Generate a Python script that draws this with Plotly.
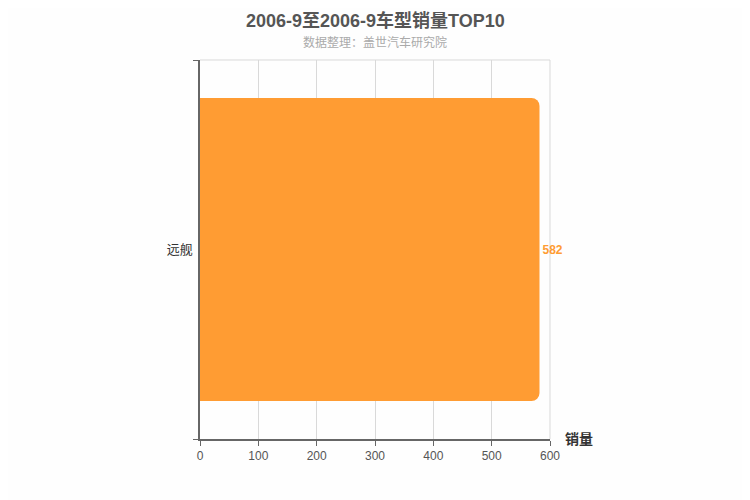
import plotly.graph_objects as go

categories = ["远舰"]
sales = [582]

FONT = "Liberation Sans, Noto Sans CJK SC, sans-serif"

fig = go.Figure()
fig.add_trace(go.Bar(
    y=categories, x=sales, orientation="h",
    marker=dict(color="#ff9c33", line=dict(width=0)),
    text=["<b>%d</b>" % v for v in sales], textposition="outside",
    textfont=dict(color="#ff9c33", size=12, family=FONT),
    cliponaxis=False, width=0.8,
))
fig.update_layout(
    width=750, height=500,
    margin=dict(l=192, r=208, t=52, b=69),
    paper_bgcolor="#fefefe", plot_bgcolor="#fefefe",
    font=dict(family=FONT, color="#333"),
    barcornerradius=8,
    showlegend=False,
    xaxis=dict(range=[0, 600], dtick=100, showgrid=True, gridcolor="#d9d9d9",
               showline=True, linecolor="#666", linewidth=1.5, ticks="outside",
               ticklen=5, tickcolor="#666", tickfont=dict(size=12, color="#555"),
               zeroline=False),
    yaxis=dict(showline=True, linecolor="#666", linewidth=1.5, ticks="outside",
               tickson="boundaries", ticklen=5, tickcolor="#666", showgrid=True,
               gridcolor="#d9d9d9", tickfont=dict(size=13, color="#333"),
               ticklabelstandoff=3),
    shapes=[
        dict(type="line", xref="paper", yref="paper", x0=0, x1=1, y0=1, y1=1,
             line=dict(color="#d9d9d9", width=1), layer="below"),
        dict(type="line", xref="paper", yref="paper", x0=1, x1=1, y0=0, y1=1,
             line=dict(color="#d9d9d9", width=1), layer="below"),
    ],
    annotations=[
        dict(text="<b>2006-9至2006-9车型销量TOP10</b>", xref="paper", yref="paper",
             x=0.5, y=1.0, yshift=51, xanchor="center", yanchor="top",
             showarrow=False, borderpad=0, font=dict(size=18, color="#555")),
        dict(text="数据整理：盖世汽车研究院", xref="paper", yref="paper", x=0.5, y=1.0,
             yshift=8, xanchor="center", yanchor="bottom", showarrow=False,
             font=dict(size=12, color="#aaa")),
        dict(text="<b>销量</b>", xref="paper", yref="paper", x=1.0, y=0.0, xshift=13,
             xanchor="left", yanchor="middle", showarrow=False,
             font=dict(size=14, color="#333")),
    ],
)
fig.write_html("out.html")
